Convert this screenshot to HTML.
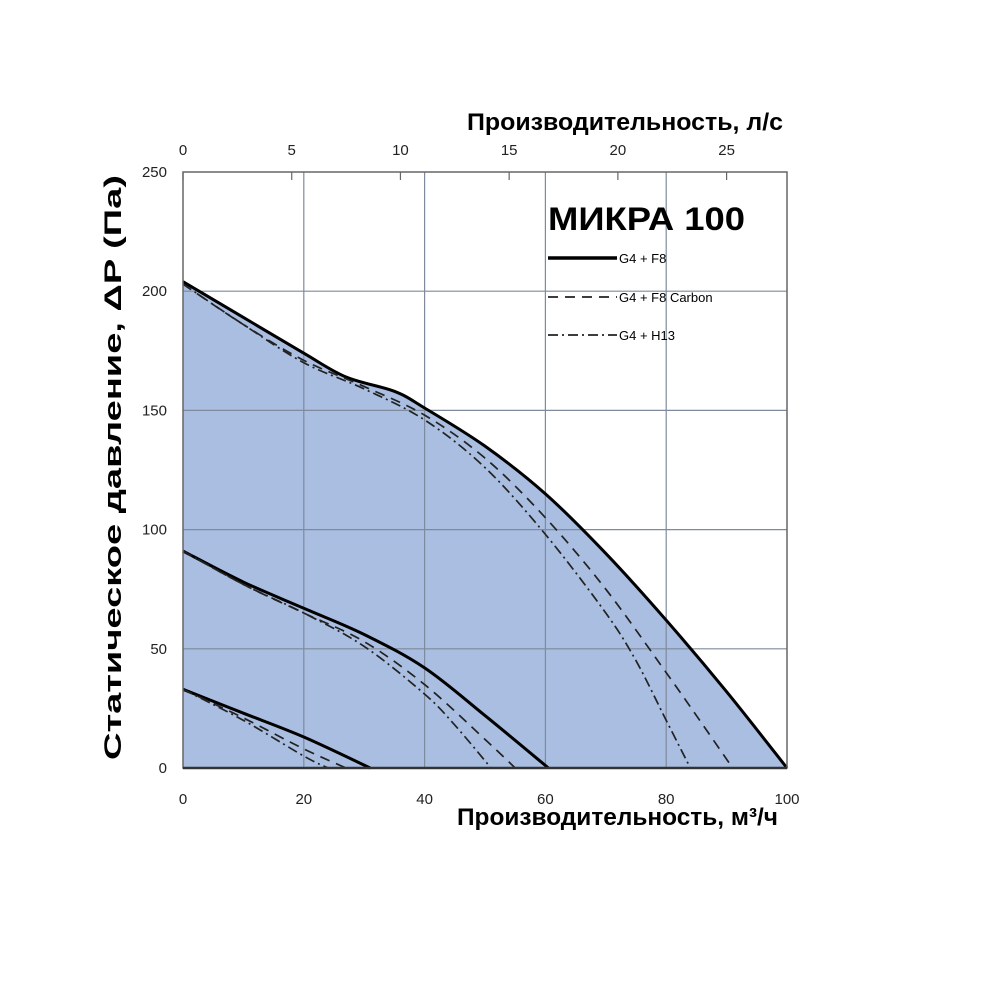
<!DOCTYPE html>
<html><head><meta charset="utf-8"><style>
body{margin:0;background:#fff;}
svg text{font-family:"Liberation Sans Narrow","Liberation Sans",sans-serif;}
</style></head><body>
<svg width="1000" height="1000" viewBox="0 0 1000 1000" xmlns="http://www.w3.org/2000/svg">
<g id="fill"></g>
<g id="grid"></g>
<g id="lines"></g>
<g id="axes"></g>
<text x="548" y="230" font-size="32" font-weight="bold" textLength="197" lengthAdjust="spacingAndGlyphs" style="font-family:'Liberation Sans',sans-serif">МИКРА 100</text>
<g>
<line x1="548" y1="258" x2="617" y2="258" stroke="#000" stroke-width="3.5"/>
<text x="619" y="263" font-size="13">G4 + F8</text>
<line x1="548" y1="297" x2="617" y2="297" stroke="#222" stroke-width="1.8" stroke-dasharray="10,7"/>
<text x="619" y="302" font-size="13">G4 + F8 Carbon</text>
<line x1="548" y1="335" x2="617" y2="335" stroke="#222" stroke-width="1.8" stroke-dasharray="10,4,2,4"/>
<text x="619" y="340" font-size="13">G4 + H13</text>
</g>
<text x="467" y="130" font-size="24" font-weight="bold" textLength="316" lengthAdjust="spacingAndGlyphs">Производительность, л/с</text>
<text x="457" y="825" font-size="24" font-weight="bold" textLength="321" lengthAdjust="spacingAndGlyphs">Производительность, м³/ч</text>
<text transform="translate(121,760) rotate(-90)" font-size="24" font-weight="bold" textLength="585" lengthAdjust="spacingAndGlyphs">Статическое давление, ΔP (Па)</text>
</svg>
<script>
const xTicks=[0,20,40,60,80,100];
const topTicks=[0,5,10,15,20,25];
const yTicks=[0,50,100,150,200,250];
const hiSolidX=[0,10,20,27,35,40,50,60,70,80,90,100];
const hiSolidY=[204,189,174,164,158,151,135,115,90,62,32,0];
const hiDashX=[0,10,20,30,40,50,60,70,80,85,91];
const hiDashY=[203,186,171,160,148,130,105,75,40,22,0];
const hiDotX=[0,10,20,30,40,50,60,70,75,80,84];
const hiDotY=[203,186,170,159,146,126,98,65,45,20,0];
const midSolidX=[0,10,20,30,40,50,60.5];
const midSolidY=[91,78,67,56,42,22,0];
const midDashX=[0,10,20,30,40,50,55];
const midDashY=[91,77,65,53,35,12,0];
const midDotX=[0,10,20,30,40,45,51];
const midDotY=[91,77,65,51,31,18,0];
const loSolidX=[0,10,20,31];
const loSolidY=[33,23,13,0];
const loDashX=[0,10,20,27];
const loDashY=[33,21,8,0];
const loDotX=[0,10,20,24];
const loDotY=[33,20,5,0];

const X0=183,X1=787,Y0=768,Y1=172;
const sx=v=>X0+(v/100)*(X1-X0);
const sy=v=>Y0-(v/250)*(Y0-Y1);
const lsToM3=v=>v*3.6;
const NS="http://www.w3.org/2000/svg";
function mk(tag,attrs,parent){const e=document.createElementNS(NS,tag);for(const k in attrs)e.setAttribute(k,attrs[k]);document.getElementById(parent).appendChild(e);return e;}
function pathD(xs,ys){
  const p=xs.map((x,i)=>[sx(x),sy(ys[i])]);
  let d="M"+p[0][0]+","+p[0][1];
  for(let i=0;i<p.length-1;i++){
    const a=p[i-1]||p[i],b=p[i],c=p[i+1],e=p[i+2]||c;
    const c1=[b[0]+(c[0]-a[0])/6,b[1]+(c[1]-a[1])/6],c2=[c[0]-(e[0]-b[0])/6,c[1]-(e[1]-b[1])/6];
    d+=" C"+c1[0]+","+c1[1]+" "+c2[0]+","+c2[1]+" "+c[0]+","+c[1];
  }
  return d;
}
let f=mk("path",{d:pathD(hiSolidX,hiSolidY)+" L"+sx(0)+","+sy(0)+" Z",fill:"#a9bee1"},"fill");


xTicks.slice(1,-1).forEach(v=>{
  const l=mk("line",{x1:sx(v),x2:sx(v),y1:Y1,y2:Y0,stroke:"#7f8a9c","stroke-width":1.2},"grid");
  
  
});
yTicks.slice(1,-1).forEach(v=>{
  const l=mk("line",{x1:X0,x2:X1,y1:sy(v),y2:sy(v),stroke:"#7f8a9c","stroke-width":1.2},"grid");
  
  
});
const fr=mk("rect",{x:X0,y:Y1,width:X1-X0,height:Y0-Y1,fill:"none",stroke:"#666","stroke-width":1.5},"axes");


const ax=mk("line",{x1:X0,x2:X1,y1:Y0,y2:Y0,stroke:"#333","stroke-width":2.5},"axes");


const series=[
 [hiSolidX,hiSolidY,"solid"],[hiDashX,hiDashY,"dash"],[hiDotX,hiDotY,"dot"],
 [midSolidX,midSolidY,"solid"],[midDashX,midDashY,"dash"],[midDotX,midDotY,"dot"],
 [loSolidX,loSolidY,"solid"],[loDashX,loDashY,"dash"],[loDotX,loDotY,"dot"]];
const names=["high-g4-f8","high-g4-f8-carbon","high-g4-h13","mid-g4-f8","mid-g4-f8-carbon","mid-g4-h13","low-g4-f8","low-g4-f8-carbon","low-g4-h13"];
series.forEach((s,i)=>{
  const a={d:pathD(s[0],s[1]),fill:"none",stroke:s[2]=="solid"?"#000":"#222","stroke-width":s[2]=="solid"?3:1.7};
  if(s[2]=="dash")a["stroke-dasharray"]="10,7";
  if(s[2]=="dot")a["stroke-dasharray"]="10,4,2,4";
  const p=mk("path",a,"lines");
  
  
});
xTicks.forEach(v=>{
  const t=mk("text",{x:sx(v),y:804,"font-size":15,"text-anchor":"middle",fill:"#222"},"axes");t.textContent=v;
  
  
});
topTicks.forEach(v=>{
  const t=mk("text",{x:sx(lsToM3(v)),y:155,"font-size":15,"text-anchor":"middle",fill:"#222"},"axes");t.textContent=v;
  
  
  const k=mk("line",{x1:sx(lsToM3(v)),x2:sx(lsToM3(v)),y1:Y1,y2:Y1+8,stroke:"#666","stroke-width":1.2},"axes");
  
  
});
yTicks.forEach(v=>{
  const t=mk("text",{x:167,y:sy(v)+5,"font-size":15,"text-anchor":"end",fill:"#222"},"axes");t.textContent=v;
  
  
});
</script>
</body></html>
